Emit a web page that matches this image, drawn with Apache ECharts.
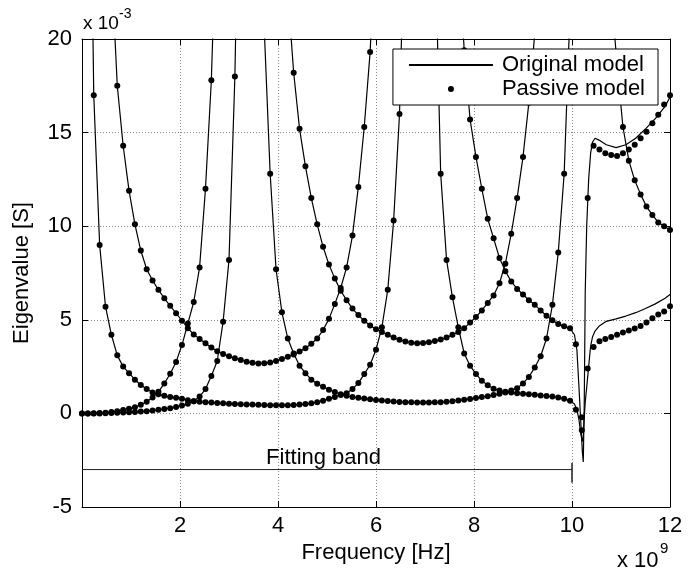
<!DOCTYPE html>
<html>
<head>
<meta charset="utf-8">
<script src="https://cdn.jsdelivr.net/npm/echarts@6/dist/echarts.min.js"></script>
<style>
  html, body { margin: 0; padding: 0; background: #fff; }
  #chart { width: 697px; height: 569px; }
</style>
</head>
<body>
<div id="chart"></div>
<script>
// frequency samples of the passive model, GHz
const FREQ = [
  0.00, 0.12, 0.24, 0.36, 0.48, 0.60, 0.72, 0.84, 0.96, 1.08,
  1.20, 1.32, 1.44, 1.56, 1.68, 1.80, 1.92, 2.04, 2.16, 2.28,
  2.40, 2.52, 2.64, 2.76, 2.88, 3.00, 3.12, 3.24, 3.36, 3.48,
  3.60, 3.72, 3.84, 3.96, 4.08, 4.20, 4.32, 4.44, 4.56, 4.68,
  4.80, 4.92, 5.04, 5.16, 5.28, 5.40, 5.52, 5.64, 5.76, 5.88,
  6.00, 6.12, 6.24, 6.36, 6.48, 6.60, 6.72, 6.84, 6.96, 7.08,
  7.20, 7.32, 7.44, 7.56, 7.68, 7.80, 7.92, 8.04, 8.16, 8.28,
  8.40, 8.52, 8.64, 8.76, 8.88, 9.00, 9.12, 9.24, 9.36, 9.48,
  9.60, 9.72, 9.84, 9.96, 10.08, 10.20, 10.32, 10.44, 10.56, 10.68,
  10.80, 10.92, 11.04, 11.16, 11.28, 11.40, 11.52, 11.64, 11.76, 11.88,
  12.00
];

// eigenvalues, x 1e-3 S (null = off the plot)
const EIG_A = [
  null, 40, 17, 9.0, 5.7, 4.2, 3.1, 2.5, 2.15, 1.8,
  1.52, 1.3, 1.12, 1.02, 0.94, 0.88, 0.83, 0.78, 0.70, 0.65,
  0.62, 0.60, 0.58, 0.56, 0.54, 0.52, 0.50, 0.49, 0.48, 0.47,
  0.46, 0.45, 0.44, 0.43, 0.43, 0.44, 0.45, 0.47, 0.50, 0.54,
  0.60, 0.68, 0.78, 0.88, 0.98, 1.08, 1.3, 1.62, 2.1, 2.6,
  3.4, 4.6, 6.6, 10.3, 16, 28, null, null, null, null,
  26, 12.8, 8.2, 6.2, 4.6, 3.2, 2.55, 2.1, 1.75, 1.5,
  1.32, 1.22, 1.15, 1.12, 1.08, 1.05, 1.02, 0.99, 0.96, 0.93,
  0.9, 0.85, 0.78, 0.68, 0.2, -0.2, 2.4, 3.55, 3.85, 3.98,
  4.08, 4.2, 4.32, 4.43, 4.53, 4.67, 4.85, 5.08, 5.28, 5.45,
  5.72
];
const EIG_B = [
  null, null, null, null, null, 24, 17.5, 14.3, 11.9, 10.1,
  8.7, 7.7, 7.1, 6.6, 6.15, 5.75, 5.35, 4.95, 4.55, 4.22,
  3.97, 3.75, 3.52, 3.32, 3.17, 3.05, 2.95, 2.85, 2.76, 2.7,
  2.67, 2.68, 2.72, 2.8, 2.9, 3.02, 3.15, 3.3, 3.48, 3.72,
  4.0, 4.45, 5.05, 5.85, 6.7, 7.8, 9.5, 12.1, 15.3, 19.3,
  26, null, null, null, null, null, null, null, null, null,
  null, null, null, null, 25, 19.4, 15.7, 13.7, 12.0, 10.4,
  9.35, 8.3, 7.6, 7.05, 6.65, 6.35, 6.05, 5.8, 5.5, 5.22,
  4.98, 4.78, 4.65, 4.55, 3.7, -0.9, 11.5, 14.3, 14.1, 13.9,
  13.8, 13.75, 13.9, 14.1, 14.35, 14.7, 15.05, 15.5, 15.95, 16.5,
  17.0
];
const EIG_C = [
  0, 0, 0.01, 0.02, 0.04, 0.07, 0.12, 0.18, 0.25, 0.33,
  0.46, 0.62, 0.85, 1.15, 1.6, 2.12, 2.75, 3.65, 4.8, 5.95,
  7.8, 12.0, 17.8, 28, null, null, null, null, null, null,
  null, null, null, null, null, 22.5, 18.2, 15.2, 13.2, 11.5,
  10.1, 8.9, 7.95, 7.2, 6.55, 6.05, 5.6, 5.25, 4.95, 4.7,
  4.5, 4.35, 4.2, 4.05, 3.93, 3.84, 3.78, 3.75, 3.76, 3.8,
  3.87, 3.95, 4.05, 4.2, 4.35, 4.55, 4.85, 5.15, 5.5, 5.9,
  6.3, 6.95, 8.0, 9.6, 11.5, 13.7, 16.6, 20.3, 27, null,
  null, null, null, null, null, null, null, null, null, null,
  22.5, 18.6, 15.3, 13.5, 12.45, 11.7, 11.05, 10.6, 10.2, 10.0,
  9.8
];
const EIG_D = [
  0, 0, 0, 0, 0.01, 0.02, 0.03, 0.05, 0.06, 0.08,
  0.1, 0.12, 0.15, 0.19, 0.23, 0.28, 0.34, 0.42, 0.52, 0.65,
  0.9, 1.3, 2.0, 2.8, 4.9, 8.2, 18, 35, null, null,
  30, 20.5, 12.8, 7.7, 5.4, 4.0, 3.2, 2.55, 2.15, 1.8,
  1.58, 1.42, 1.27, 1.14, 1.02, 0.94, 0.88, 0.83, 0.79, 0.75,
  0.72, 0.69, 0.66, 0.63, 0.61, 0.60, 0.59, 0.58, 0.58, 0.58,
  0.59, 0.60, 0.62, 0.65, 0.69, 0.73, 0.77, 0.82, 0.87, 0.92,
  0.98, 1.05, 1.12, 1.22, 1.35, 1.6, 1.95, 2.45, 3.05, 4.0,
  5.8, 8.6, 12.8, 21.5, null, null, null, null, null, null,
  null, null, null, null, null, null, null, null, null, null,
  null
];

// original model above the fitting band, where it leaves the passive one
const ORIG_HI_FREQ = [10.00, 10.05, 10.10, 10.14, 10.18, 10.21, 10.23, 10.25, 10.27, 10.30, 10.34, 10.38,
  10.42, 10.47, 10.55, 10.70, 10.90, 11.10, 11.30, 11.50, 11.70, 11.90, 12.00];
const ORIG_A_HI = [0.65, 0.5, 0.2, -0.3, -1.1, -1.5, -1.2, -0.2, 0.6, 1.4, 2.5, 3.6,
  4.1, 4.4, 4.65, 4.92, 5.05, 5.2, 5.38, 5.6, 5.85, 6.15, 6.35];
const ORIG_B_HI = [4.5, 4.2, 3.4, 1.5, -0.5, -2.0, -2.6, 0.5, 6.5, 10.0, 12.5, 13.9,
  14.5, 14.7, 14.6, 14.35, 14.2, 14.35, 14.7, 15.2, 15.75, 16.4, 16.9];

const FIT_BAND = [[0, -3], [10, -3]];
const FIT_END = [[10, -2.65], [10, -3.7]];
const FIT_LABEL_AT = [4.93, -3];

const FONT = "'Liberation Sans', Arial, Helvetica, sans-serif";
const FS = 22;
const LAST_FIT = 83; // index of 9.96 GHz

function pairs(xs, vs, n) {
  const out = [];
  const end = n === undefined ? vs.length : n;
  for (let i = 0; i < end; i++) {
    out.push([xs[i], vs[i] == null ? '-' : vs[i]]);
  }
  return out;
}

const origLines = [
  pairs(FREQ, EIG_A, LAST_FIT + 1).concat(pairs(ORIG_HI_FREQ, ORIG_A_HI)),
  pairs(FREQ, EIG_B, LAST_FIT + 1).concat(pairs(ORIG_HI_FREQ, ORIG_B_HI)),
  pairs(FREQ, EIG_C),
  pairs(FREQ, EIG_D)
];
const passive = [EIG_A, EIG_B, EIG_C, EIG_D].map(v => pairs(FREQ, v));

const series = [];
origLines.forEach(d => series.push({
  type: 'line', name: 'Original model', data: d, symbol: 'none',
  lineStyle: { color: '#000', width: 1.2 }, itemStyle: { color: '#000' },
  z: 2, silent: true
}));
passive.forEach(d => series.push({
  type: 'scatter', name: 'Passive model', data: d, symbol: 'circle', symbolSize: 6,
  itemStyle: { color: '#000', opacity: 1 }, z: 3, silent: true
}));
series.push({
  type: 'line', data: FIT_BAND, symbol: 'none',
  lineStyle: { color: '#222', width: 1 }, z: 2, silent: true
});
series.push({
  type: 'line', data: FIT_END, symbol: 'none',
  lineStyle: { color: '#222', width: 1.5 }, z: 2, silent: true
});
series.push({
  type: 'scatter', data: [FIT_LABEL_AT], symbolSize: 0, silent: true,
  itemStyle: { opacity: 1 },
  label: { show: true, position: 'top', distance: 1, formatter: 'Fitting band',
    fontSize: FS, fontFamily: FONT, color: '#000' }
});

const tickStyle = { show: true, inside: true, length: 6, lineStyle: { color: '#000', width: 1 } };
const lineStyleAxis = { show: true, onZero: false, lineStyle: { color: '#000', width: 1 } };
const gridLine = { show: true, lineStyle: { color: '#8a8a8a', width: 1, type: [1, 2] } };
const labelFont = { fontSize: FS, fontFamily: FONT, color: '#000' };

const chart = echarts.init(document.getElementById('chart'));
chart.setOption({
  animation: false,
  backgroundColor: '#fff',
  grid: { left: 82, right: 27, top: 39, bottom: 62 },
  xAxis: [
    {
      type: 'value', min: 0, max: 12, interval: 2, position: 'bottom',
      axisLine: lineStyleAxis, axisTick: tickStyle, splitLine: gridLine,
      axisLabel: Object.assign({ margin: 8, formatter: v => (v === 0 ? '' : String(v)) }, labelFont),
      name: 'Frequency [Hz]', nameLocation: 'middle', nameGap: 34, nameTextStyle: labelFont
    },
    {
      type: 'value', min: 0, max: 12, interval: 2, position: 'top',
      axisLine: lineStyleAxis, axisTick: tickStyle, axisLabel: { show: false }, splitLine: { show: false }
    }
  ],
  yAxis: [
    {
      type: 'value', min: -5, max: 20, interval: 5, position: 'left',
      axisLine: lineStyleAxis, axisTick: tickStyle, splitLine: gridLine,
      axisLabel: Object.assign({ margin: 10 }, labelFont),
      name: 'Eigenvalue [S]', nameLocation: 'middle', nameGap: 49, nameTextStyle: labelFont
    },
    {
      type: 'value', min: -5, max: 20, interval: 5, position: 'right',
      axisLine: lineStyleAxis, axisTick: tickStyle, axisLabel: { show: false }, splitLine: { show: false }
    }
  ],
  legend: {
    data: [
      { name: 'Original model', itemStyle: { opacity: 0 } },
      { name: 'Passive model' }
    ],
    orient: 'vertical', right: 39, top: 49,
    itemWidth: 84, itemHeight: 6, itemGap: 2,
    padding: [5, 13, 5, 15],
    borderColor: '#000', borderWidth: 1, backgroundColor: '#fff',
    textStyle: { fontSize: FS, fontFamily: FONT, color: '#000', padding: [0, 0, 0, 4] },
    selectedMode: false
  },
  graphic: [
    { type: 'text', x: 83, y: 24, style: { text: 'x 10', font: '19px ' + FONT, fill: '#000', verticalAlign: 'middle' } },
    { type: 'text', x: 119, y: 14, style: { text: '-3', font: '14px ' + FONT, fill: '#000', verticalAlign: 'middle' } },
    { type: 'text', x: 617, y: 561, style: { text: 'x 10', font: FS + 'px ' + FONT, fill: '#000', verticalAlign: 'middle' } },
    { type: 'text', x: 660, y: 549, style: { text: '9', font: '15px ' + FONT, fill: '#000', verticalAlign: 'middle' } }
  ],
  series: series
});
</script>
</body>
</html>
